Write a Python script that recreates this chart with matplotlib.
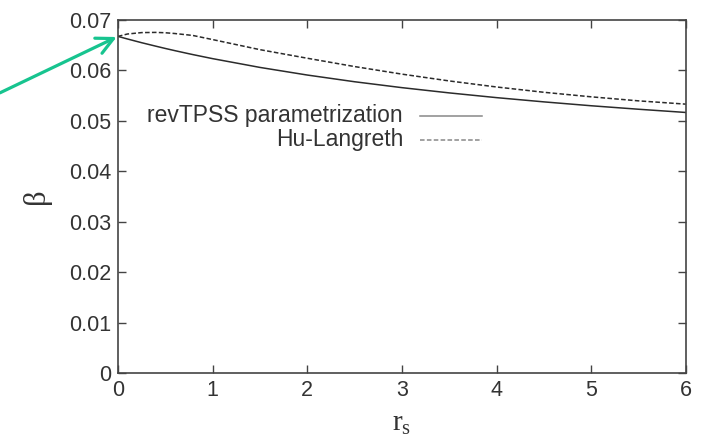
import matplotlib.pyplot as plt
import numpy as np

plt.rcParams['font.family'] = ['Liberation Sans', 'DejaVu Sans']

# beta(rs) curves
rs = [0, 0.1, 0.25, 0.4, 0.5, 0.6, 0.75, 0.8, 1.0, 1.4, 1.5, 2.0, 2.5, 3.0, 3.5, 4.0, 4.5, 5.0, 5.5, 6.0]
beta_rev = [0.06673, 0.06622, 0.06548, 0.06479, 0.06434, 0.06391, 0.06329, 0.06309, 0.06232,
            0.06093, 0.06058, 0.05907, 0.05774, 0.05657, 0.05553, 0.05459, 0.05375, 0.05298,
            0.05229, 0.05165]
beta_hl = [0.06672, 0.06720, 0.06748, 0.06752, 0.06745, 0.06730, 0.06700, 0.06688, 0.06610,
           0.06450, 0.06410, 0.06240, 0.06075, 0.05925, 0.05790, 0.05670, 0.05565, 0.05475,
           0.05395, 0.05330]

xticks = [0, 1, 2, 3, 4, 5, 6]
yticks = [0, 0.01, 0.02, 0.03, 0.04, 0.05, 0.06, 0.07]
ytick_labels = ['0', '0.01', '0.02', '0.03', '0.04', '0.05', '0.06', '0.07']

fig = plt.figure(figsize=(7.02, 4.42), dpi=100)
ax = fig.add_axes([0.168, 0.156, 0.809, 0.799])

ax.plot(rs, beta_rev, color='#2b2b2b', lw=1.1)
ax.plot(rs, beta_hl, color='#2b2b2b', lw=1.1, ls=(0, (3, 1.5)))

ax.set_xlim(0, 6)
ax.set_ylim(0, 0.07)
ax.set_xticks(xticks)
ax.set_yticks(yticks)
ax.set_yticklabels(ytick_labels)
ax.tick_params(direction='in', top=True, right=True, length=6, width=1,
               color='#444444', labelcolor='#333333', labelsize=15.5, pad=5)
for s in ax.spines.values():
    s.set_color('#444444')
    s.set_linewidth(1.2)

ax.set_xlabel(r'$\mathregular{r_s}$', fontsize=21, family='Liberation Serif', color='#333333', labelpad=7)
ax.set_ylabel('β', fontsize=22, family='Liberation Serif', color='#333333', labelpad=13)

# key, gnuplot style: right-aligned text with sample to its right
ax.text(0.502, 0.728, 'revTPSS parametrization', transform=ax.transAxes,
        ha='right', va='center', fontsize=16.5, color='#333333')
ax.text(0.502, 0.660, 'Hu-Langreth', transform=ax.transAxes,
        ha='right', va='center', fontsize=16.5, color='#333333')
ax.plot([0.532, 0.641], [0.728, 0.728], transform=ax.transAxes, color='#888888', lw=1.1)
ax.plot([0.532, 0.641], [0.660, 0.660], transform=ax.transAxes, color='#888888', lw=1.1,
        ls=(0, (3, 1.5)))

# pointer to the rs = 0 value
ax.annotate('', xy=(0, beta_rev[0]), xycoords='data',
            xytext=(0.0, 0.79), textcoords='figure fraction',
            arrowprops=dict(arrowstyle='->', color='#17c48f', lw=2.3,
                            mutation_scale=30, shrinkA=0, shrinkB=1),
            annotation_clip=False)

plt.savefig('out.png', dpi=100)
